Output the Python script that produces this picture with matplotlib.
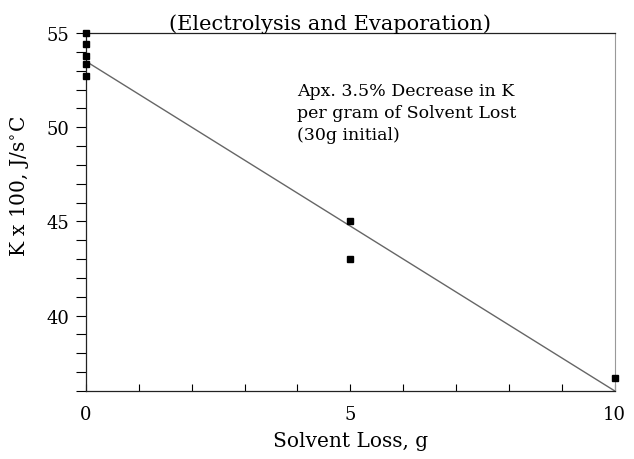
import numpy as np
import matplotlib.pyplot as plt
from matplotlib.ticker import MultipleLocator

# data
loss_g = [0, 0, 0, 0, 0, 5, 5, 10]
k_vals = [55.0, 54.4, 53.8, 53.35, 52.7, 45.0, 43.0, 36.7]
fit_x = [0, 10]
fit_y = [53.5, 36.0]

plt.rcParams['font.family'] = 'DejaVu Serif'

fig = plt.figure(figsize=(6.34, 4.6), dpi=100)
ax = fig.add_axes([0.1356, 0.148, 0.834, 0.778])

ax.plot(fit_x, fit_y, color='#666666', linewidth=1.0)
ax.plot(loss_g, k_vals, linestyle='none', marker='s', markersize=4.5,
        color='black', clip_on=False, zorder=5)

ax.set_xlim(0, 10)
ax.set_ylim(36, 55)
ax.xaxis.set_major_locator(MultipleLocator(5))
ax.xaxis.set_minor_locator(MultipleLocator(1))
ax.yaxis.set_major_locator(MultipleLocator(5))
ax.yaxis.set_minor_locator(MultipleLocator(1))

ax.tick_params(axis='y', which='both', direction='out', length=7, width=0.8,
               labelsize=13, pad=5)
ax.tick_params(axis='x', which='both', direction='in', length=5, width=0.8,
               labelsize=13, pad=10)

for s in ['left', 'bottom', 'top']:
    ax.spines[s].set_linewidth(0.9)
    ax.spines[s].set_color('#222222')
ax.spines['right'].set_linewidth(0.8)
ax.spines['right'].set_color('#999999')

ax.set_xlabel('Solvent Loss, g', fontsize=14.5, labelpad=6)
ax.set_ylabel('K x 100, J/s$^{\\circ}$C', fontsize=14.5)
ax.yaxis.set_label_coords(-0.104, 0.575)
ax.set_title('(Electrolysis and Evaporation)', fontsize=15, pad=3, x=0.461)

ax.text(0.40, 0.862, 'Apx. 3.5% Decrease in K\nper gram of Solvent Lost\n(30g initial)',
        transform=ax.transAxes, fontsize=12.5, va='top', ha='left', linespacing=1.35)

fig.savefig('out.png', dpi=100)
